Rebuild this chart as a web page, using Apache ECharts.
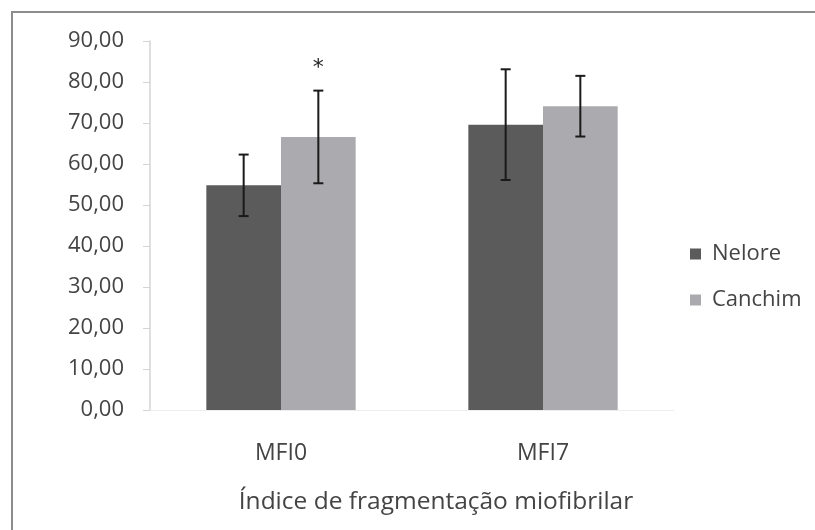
<!DOCTYPE html>
<html>
<head>
<meta charset="utf-8">
<script src="https://cdn.jsdelivr.net/npm/echarts@6/dist/echarts.min.js"></script>
<style>
  html, body { margin: 0; padding: 0; background: #ffffff; }
  #chart { width: 815px; height: 530px; }
</style>
</head>
<body>
<div id="chart"></div>
<script>
// Miofibrillar fragmentation index by breed (mean ± SD)
const categories = ['MFI0', 'MFI7'];
const seriesNames = ['Nelore', 'Canchim'];
const neloreMean = [54.8, 69.6];
const neloreSd = [7.5, 13.5];
const canchimMean = [66.6, 74.1];
const canchimSd = [11.3, 7.4];
const canchimSignif = ['*', ''];
const neloreSignif = ['', ''];
const yTicks = { min: 0, max: 90, interval: 10 };
const xTitle = 'Índice de fragmentação miofibrilar';

const FONT = 'Open Sans';
const TEXT = '#444444';
const COLORS = ['#5b5b5b', '#ababaf'];

const chart = echarts.init(document.getElementById('chart'));

// error bar + significance mark for one series, offset to its bar slot
function errorSeries(means, sds, marks, slot) {
  const data = means.map((m, i) => [i, m, sds[i], marks[i]]);
  return {
    type: 'custom',
    name: seriesNames[slot] + ' SD',
    z: 10,
    data: data,
    renderItem: function (params, api) {
      const idx = api.value(0);
      const mean = api.value(1);
      const sd = api.value(2);
      const mark = data[params.dataIndex][3];
      const band = api.size([1, 0])[0];
      const barW = band * 0.57 / 2;
      const cx = api.coord([idx, 0])[0] + (slot === 0 ? -barW / 2 : barW / 2);
      const yTop = api.coord([idx, mean + sd])[1];
      const yBot = api.coord([idx, mean - sd])[1];
      const cap = 5;
      const style = { stroke: '#1a1a1a', lineWidth: 2 };
      const children = [
        { type: 'line', shape: { x1: cx, y1: yTop, x2: cx, y2: yBot }, style },
        { type: 'line', shape: { x1: cx - cap, y1: yTop, x2: cx + cap, y2: yTop }, style },
        { type: 'line', shape: { x1: cx - cap, y1: yBot, x2: cx + cap, y2: yBot }, style }
      ];
      if (mark) {
        children.push({
          type: 'text',
          style: {
            text: mark, x: cx, y: yTop - 22,
            align: 'center', verticalAlign: 'middle',
            font: '22px "DejaVu Sans"', fill: '#222'
          }
        });
      }
      return { type: 'group', children };
    }
  };
}

chart.setOption({
  backgroundColor: '#ffffff',
  animation: false,
  graphic: [{
    type: 'rect',
    shape: { x: 12, y: 12, width: 820, height: 540 },
    style: { fill: 'none', stroke: '#8c8c8c', lineWidth: 2 },
    silent: true
  }],
  grid: { left: 150, right: 141, top: 41, bottom: 120 },
  legend: {
    orient: 'vertical',
    left: 685, top: 238,
    itemWidth: 11, itemHeight: 11, itemGap: 24,
    icon: 'rect',
    data: seriesNames,
    textStyle: { fontFamily: FONT, fontSize: 22, color: TEXT, padding: [0, 0, 0, 6] }
  },
  xAxis: {
    type: 'category',
    data: categories,
    name: xTitle,
    nameLocation: 'middle',
    nameGap: 80,
    nameTextStyle: { fontFamily: FONT, fontSize: 24.5, color: TEXT, padding: [0, 0, 0, 48] },
    axisLine: { lineStyle: { color: '#eeeeee', width: 1 } },
    axisTick: { show: false },
    axisLabel: { fontFamily: FONT, fontSize: 23, color: TEXT, margin: 32 }
  },
  yAxis: {
    type: 'value',
    min: yTicks.min, max: yTicks.max, interval: yTicks.interval,
    axisLine: { show: true, lineStyle: { color: '#d4d4d4', width: 1.5 } },
    axisTick: { show: true, length: 7, lineStyle: { color: '#d4d4d4' } },
    splitLine: { show: false },
    axisLabel: {
      fontFamily: FONT, fontSize: 22, color: TEXT, margin: 26,
      formatter: v => v.toFixed(2).replace('.', ',')
    }
  },
  series: [
    {
      name: seriesNames[0], type: 'bar', data: neloreMean,
      barGap: '0%', barCategoryGap: '43%',
      itemStyle: { color: COLORS[0] }
    },
    {
      name: seriesNames[1], type: 'bar', data: canchimMean,
      barGap: '0%', barCategoryGap: '43%',
      itemStyle: { color: COLORS[1] }
    },
    errorSeries(neloreMean, neloreSd, neloreSignif, 0),
    errorSeries(canchimMean, canchimSd, canchimSignif, 1)
  ]
});
</script>
</body>
</html>
